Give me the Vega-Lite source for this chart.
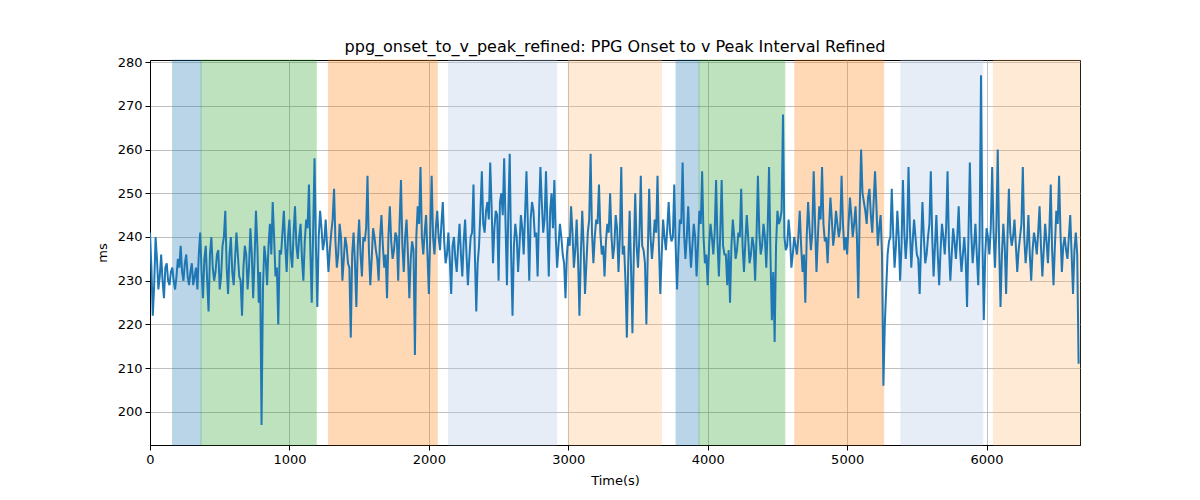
{
  "$schema": "https://vega.github.io/schema/vega-lite/v6.json",
  "width": 930,
  "height": 385,
  "autosize": "none",
  "padding": {"left": 150, "top": 60, "right": 120, "bottom": 55},
  "background": "white",
  "title": {
    "text": "ppg_onset_to_v_peak_refined: PPG Onset to v Peak Interval Refined",
    "font": "DejaVu Sans",
    "fontSize": 16,
    "fontWeight": "normal",
    "color": "black",
    "offset": 1
  },
  "datasets": {
    "bands": [
      {"start": 162, "end": 366, "kind": "blue"},
      {"start": 366, "end": 1192, "kind": "green"},
      {"start": 1280, "end": 2060, "kind": "orange"},
      {"start": 2141, "end": 2917, "kind": "lightblue"},
      {"start": 3000, "end": 3668, "kind": "peach"},
      {"start": 3773, "end": 3938, "kind": "blue"},
      {"start": 3938, "end": 4553, "kind": "green"},
      {"start": 4625, "end": 5262, "kind": "orange"},
      {"start": 5386, "end": 5973, "kind": "lightblue"},
      {"start": 6049, "end": 6670, "kind": "peach"}
    ],
    "series": [
      {"t": 0, "v": 241}, {"t": 20, "v": 222}, {"t": 40, "v": 240}, {"t": 60, "v": 228}, {"t": 80, "v": 236},
      {"t": 100, "v": 226}, {"t": 120, "v": 234}, {"t": 140, "v": 229}, {"t": 160, "v": 233}, {"t": 180, "v": 228},
      {"t": 200, "v": 235}, {"t": 220, "v": 238}, {"t": 240, "v": 230}, {"t": 260, "v": 236}, {"t": 280, "v": 229},
      {"t": 300, "v": 234}, {"t": 320, "v": 231}, {"t": 340, "v": 228}, {"t": 360, "v": 241}, {"t": 380, "v": 226},
      {"t": 400, "v": 238}, {"t": 420, "v": 223}, {"t": 440, "v": 240}, {"t": 460, "v": 230}, {"t": 480, "v": 236},
      {"t": 500, "v": 228}, {"t": 520, "v": 238}, {"t": 540, "v": 246}, {"t": 560, "v": 227}, {"t": 580, "v": 240},
      {"t": 600, "v": 229}, {"t": 620, "v": 241}, {"t": 640, "v": 231}, {"t": 660, "v": 222}, {"t": 680, "v": 238},
      {"t": 700, "v": 228}, {"t": 720, "v": 242}, {"t": 740, "v": 226}, {"t": 760, "v": 246}, {"t": 780, "v": 225},
      {"t": 800, "v": 197}, {"t": 820, "v": 238}, {"t": 840, "v": 229}, {"t": 860, "v": 243}, {"t": 880, "v": 248},
      {"t": 900, "v": 231}, {"t": 920, "v": 220}, {"t": 940, "v": 236}, {"t": 960, "v": 246}, {"t": 980, "v": 232},
      {"t": 1000, "v": 244}, {"t": 1020, "v": 233}, {"t": 1040, "v": 247}, {"t": 1060, "v": 235}, {"t": 1080, "v": 243},
      {"t": 1100, "v": 230}, {"t": 1120, "v": 244}, {"t": 1140, "v": 252}, {"t": 1160, "v": 225}, {"t": 1180, "v": 258},
      {"t": 1200, "v": 224}, {"t": 1220, "v": 246}, {"t": 1240, "v": 237}, {"t": 1260, "v": 244}, {"t": 1280, "v": 232},
      {"t": 1300, "v": 241}, {"t": 1320, "v": 251}, {"t": 1340, "v": 233}, {"t": 1360, "v": 243}, {"t": 1380, "v": 230},
      {"t": 1400, "v": 240}, {"t": 1420, "v": 234}, {"t": 1440, "v": 217}, {"t": 1460, "v": 241}, {"t": 1480, "v": 224},
      {"t": 1500, "v": 244}, {"t": 1520, "v": 231}, {"t": 1540, "v": 239}, {"t": 1560, "v": 254}, {"t": 1580, "v": 229},
      {"t": 1600, "v": 242}, {"t": 1620, "v": 237}, {"t": 1640, "v": 230}, {"t": 1660, "v": 245}, {"t": 1680, "v": 233},
      {"t": 1700, "v": 226}, {"t": 1720, "v": 247}, {"t": 1740, "v": 235}, {"t": 1760, "v": 241}, {"t": 1780, "v": 230},
      {"t": 1800, "v": 253}, {"t": 1820, "v": 232}, {"t": 1840, "v": 244}, {"t": 1860, "v": 226}, {"t": 1880, "v": 239},
      {"t": 1900, "v": 213}, {"t": 1920, "v": 247}, {"t": 1940, "v": 256}, {"t": 1960, "v": 236}, {"t": 1980, "v": 245},
      {"t": 2000, "v": 227}, {"t": 2020, "v": 254}, {"t": 2040, "v": 236}, {"t": 2060, "v": 246}, {"t": 2080, "v": 237},
      {"t": 2100, "v": 248}, {"t": 2120, "v": 234}, {"t": 2140, "v": 241}, {"t": 2160, "v": 227}, {"t": 2180, "v": 240},
      {"t": 2200, "v": 232}, {"t": 2220, "v": 243}, {"t": 2240, "v": 231}, {"t": 2260, "v": 244}, {"t": 2280, "v": 229},
      {"t": 2300, "v": 240}, {"t": 2320, "v": 252}, {"t": 2340, "v": 223}, {"t": 2360, "v": 238}, {"t": 2380, "v": 255},
      {"t": 2400, "v": 241}, {"t": 2420, "v": 248}, {"t": 2440, "v": 257}, {"t": 2460, "v": 234}, {"t": 2480, "v": 246},
      {"t": 2500, "v": 230}, {"t": 2520, "v": 250}, {"t": 2540, "v": 258}, {"t": 2560, "v": 229}, {"t": 2580, "v": 259},
      {"t": 2600, "v": 222}, {"t": 2620, "v": 243}, {"t": 2640, "v": 232}, {"t": 2660, "v": 245}, {"t": 2680, "v": 236},
      {"t": 2700, "v": 255}, {"t": 2720, "v": 230}, {"t": 2740, "v": 248}, {"t": 2760, "v": 240}, {"t": 2780, "v": 231},
      {"t": 2800, "v": 256}, {"t": 2820, "v": 241}, {"t": 2840, "v": 255}, {"t": 2860, "v": 231}, {"t": 2880, "v": 250},
      {"t": 2900, "v": 253}, {"t": 2920, "v": 233}, {"t": 2940, "v": 243}, {"t": 2960, "v": 236}, {"t": 2980, "v": 226},
      {"t": 3000, "v": 240}, {"t": 3020, "v": 247}, {"t": 3040, "v": 233}, {"t": 3060, "v": 244}, {"t": 3080, "v": 222},
      {"t": 3100, "v": 246}, {"t": 3120, "v": 227}, {"t": 3140, "v": 241}, {"t": 3160, "v": 259}, {"t": 3180, "v": 234},
      {"t": 3200, "v": 244}, {"t": 3220, "v": 252}, {"t": 3240, "v": 236}, {"t": 3260, "v": 231}, {"t": 3280, "v": 243},
      {"t": 3300, "v": 250}, {"t": 3320, "v": 235}, {"t": 3340, "v": 245}, {"t": 3360, "v": 232}, {"t": 3380, "v": 256},
      {"t": 3400, "v": 238}, {"t": 3420, "v": 217}, {"t": 3440, "v": 246}, {"t": 3460, "v": 218}, {"t": 3480, "v": 250},
      {"t": 3500, "v": 233}, {"t": 3520, "v": 254}, {"t": 3540, "v": 237}, {"t": 3560, "v": 220}, {"t": 3580, "v": 251},
      {"t": 3600, "v": 235}, {"t": 3620, "v": 244}, {"t": 3640, "v": 254}, {"t": 3660, "v": 227}, {"t": 3680, "v": 244},
      {"t": 3700, "v": 237}, {"t": 3720, "v": 248}, {"t": 3740, "v": 239}, {"t": 3760, "v": 252}, {"t": 3780, "v": 228},
      {"t": 3800, "v": 244}, {"t": 3820, "v": 257}, {"t": 3840, "v": 235}, {"t": 3860, "v": 247}, {"t": 3880, "v": 233},
      {"t": 3900, "v": 243}, {"t": 3920, "v": 231}, {"t": 3940, "v": 246}, {"t": 3960, "v": 255}, {"t": 3980, "v": 234},
      {"t": 4000, "v": 229}, {"t": 4020, "v": 243}, {"t": 4040, "v": 236}, {"t": 4060, "v": 253}, {"t": 4080, "v": 231},
      {"t": 4100, "v": 253}, {"t": 4120, "v": 236}, {"t": 4140, "v": 229}, {"t": 4160, "v": 225}, {"t": 4180, "v": 244},
      {"t": 4200, "v": 235}, {"t": 4220, "v": 241}, {"t": 4240, "v": 251}, {"t": 4260, "v": 232}, {"t": 4280, "v": 245},
      {"t": 4300, "v": 234}, {"t": 4320, "v": 240}, {"t": 4340, "v": 230}, {"t": 4360, "v": 254}, {"t": 4380, "v": 236},
      {"t": 4400, "v": 243}, {"t": 4420, "v": 233}, {"t": 4440, "v": 256}, {"t": 4460, "v": 221}, {"t": 4480, "v": 216},
      {"t": 4500, "v": 246}, {"t": 4520, "v": 244}, {"t": 4540, "v": 268}, {"t": 4560, "v": 237}, {"t": 4580, "v": 244},
      {"t": 4600, "v": 233}, {"t": 4620, "v": 240}, {"t": 4640, "v": 236}, {"t": 4660, "v": 246}, {"t": 4680, "v": 232},
      {"t": 4700, "v": 225}, {"t": 4720, "v": 248}, {"t": 4740, "v": 237}, {"t": 4760, "v": 255}, {"t": 4780, "v": 232},
      {"t": 4800, "v": 247}, {"t": 4820, "v": 256}, {"t": 4840, "v": 239}, {"t": 4860, "v": 234}, {"t": 4880, "v": 249},
      {"t": 4900, "v": 238}, {"t": 4920, "v": 246}, {"t": 4940, "v": 240}, {"t": 4960, "v": 254}, {"t": 4980, "v": 237},
      {"t": 5000, "v": 236}, {"t": 5020, "v": 249}, {"t": 5040, "v": 240}, {"t": 5060, "v": 247}, {"t": 5080, "v": 226},
      {"t": 5100, "v": 260}, {"t": 5120, "v": 248}, {"t": 5140, "v": 243}, {"t": 5160, "v": 251}, {"t": 5180, "v": 241},
      {"t": 5200, "v": 255}, {"t": 5220, "v": 238}, {"t": 5240, "v": 245}, {"t": 5260, "v": 206}, {"t": 5280, "v": 228},
      {"t": 5300, "v": 239}, {"t": 5320, "v": 251}, {"t": 5340, "v": 233}, {"t": 5360, "v": 246}, {"t": 5380, "v": 230},
      {"t": 5400, "v": 253}, {"t": 5420, "v": 235}, {"t": 5440, "v": 256}, {"t": 5460, "v": 233}, {"t": 5480, "v": 244},
      {"t": 5500, "v": 236}, {"t": 5520, "v": 227}, {"t": 5540, "v": 248}, {"t": 5560, "v": 234}, {"t": 5580, "v": 240},
      {"t": 5600, "v": 255}, {"t": 5620, "v": 231}, {"t": 5640, "v": 245}, {"t": 5660, "v": 229}, {"t": 5680, "v": 243},
      {"t": 5700, "v": 236}, {"t": 5720, "v": 255}, {"t": 5740, "v": 230}, {"t": 5760, "v": 242}, {"t": 5780, "v": 235},
      {"t": 5800, "v": 247}, {"t": 5820, "v": 232}, {"t": 5840, "v": 240}, {"t": 5860, "v": 224}, {"t": 5880, "v": 257},
      {"t": 5900, "v": 234}, {"t": 5920, "v": 243}, {"t": 5940, "v": 229}, {"t": 5960, "v": 277}, {"t": 5980, "v": 221},
      {"t": 6000, "v": 242}, {"t": 6020, "v": 236}, {"t": 6040, "v": 256}, {"t": 6060, "v": 233}, {"t": 6080, "v": 260},
      {"t": 6100, "v": 224}, {"t": 6120, "v": 243}, {"t": 6140, "v": 227}, {"t": 6160, "v": 251}, {"t": 6180, "v": 238},
      {"t": 6200, "v": 244}, {"t": 6220, "v": 232}, {"t": 6240, "v": 240}, {"t": 6260, "v": 256}, {"t": 6280, "v": 234},
      {"t": 6300, "v": 245}, {"t": 6320, "v": 230}, {"t": 6340, "v": 241}, {"t": 6360, "v": 236}, {"t": 6380, "v": 247},
      {"t": 6400, "v": 231}, {"t": 6420, "v": 243}, {"t": 6440, "v": 234}, {"t": 6460, "v": 252}, {"t": 6480, "v": 229},
      {"t": 6500, "v": 246}, {"t": 6520, "v": 254}, {"t": 6540, "v": 232}, {"t": 6560, "v": 240}, {"t": 6580, "v": 235},
      {"t": 6600, "v": 245}, {"t": 6620, "v": 227}, {"t": 6640, "v": 241}, {"t": 6660, "v": 211},
      {"t": 10, "v": 233}, {"t": 30, "v": 229}, {"t": 50, "v": 235}, {"t": 70, "v": 231}, {"t": 90, "v": 230},
      {"t": 110, "v": 233}, {"t": 130, "v": 230}, {"t": 150, "v": 232}, {"t": 170, "v": 230}, {"t": 190, "v": 231},
      {"t": 210, "v": 233}, {"t": 230, "v": 232}, {"t": 250, "v": 234}, {"t": 270, "v": 231}, {"t": 290, "v": 232},
      {"t": 310, "v": 229}, {"t": 330, "v": 233}, {"t": 350, "v": 236}, {"t": 370, "v": 232}, {"t": 390, "v": 235},
      {"t": 410, "v": 230}, {"t": 430, "v": 236}, {"t": 450, "v": 233}, {"t": 470, "v": 232}, {"t": 490, "v": 237},
      {"t": 510, "v": 231}, {"t": 530, "v": 240}, {"t": 550, "v": 233}, {"t": 570, "v": 236}, {"t": 590, "v": 232},
      {"t": 610, "v": 235}, {"t": 630, "v": 236}, {"t": 650, "v": 230}, {"t": 670, "v": 233}, {"t": 690, "v": 236},
      {"t": 710, "v": 233}, {"t": 730, "v": 236}, {"t": 750, "v": 235}, {"t": 770, "v": 238}, {"t": 790, "v": 232},
      {"t": 810, "v": 228}, {"t": 830, "v": 235}, {"t": 850, "v": 238}, {"t": 870, "v": 236}, {"t": 890, "v": 240},
      {"t": 910, "v": 233}, {"t": 930, "v": 237}, {"t": 950, "v": 241}, {"t": 970, "v": 238}, {"t": 990, "v": 240},
      {"t": 1010, "v": 236}, {"t": 1030, "v": 241}, {"t": 1050, "v": 238}, {"t": 1070, "v": 240}, {"t": 1090, "v": 235},
      {"t": 1110, "v": 239}, {"t": 1130, "v": 242}, {"t": 1150, "v": 237}, {"t": 1170, "v": 241}, {"t": 1190, "v": 238},
      {"t": 1210, "v": 240}, {"t": 1230, "v": 242}, {"t": 1250, "v": 239}, {"t": 1270, "v": 238}, {"t": 1290, "v": 237},
      {"t": 1310, "v": 244}, {"t": 1330, "v": 239}, {"t": 1350, "v": 236}, {"t": 1370, "v": 240}, {"t": 1390, "v": 235},
      {"t": 1410, "v": 238}, {"t": 1430, "v": 233}, {"t": 1450, "v": 236}, {"t": 1470, "v": 234}, {"t": 1490, "v": 238},
      {"t": 1510, "v": 236}, {"t": 1530, "v": 240}, {"t": 1550, "v": 242}, {"t": 1570, "v": 237}, {"t": 1590, "v": 235},
      {"t": 1610, "v": 240}, {"t": 1630, "v": 235}, {"t": 1650, "v": 240}, {"t": 1670, "v": 238}, {"t": 1690, "v": 236},
      {"t": 1710, "v": 240}, {"t": 1730, "v": 239}, {"t": 1750, "v": 237}, {"t": 1770, "v": 240}, {"t": 1790, "v": 243},
      {"t": 1810, "v": 238}, {"t": 1830, "v": 240}, {"t": 1850, "v": 236}, {"t": 1870, "v": 235}, {"t": 1890, "v": 237},
      {"t": 1910, "v": 240}, {"t": 1930, "v": 243}, {"t": 1950, "v": 240}, {"t": 1970, "v": 241}, {"t": 1990, "v": 236},
      {"t": 2010, "v": 241}, {"t": 2030, "v": 240}, {"t": 2050, "v": 242}, {"t": 2070, "v": 240}, {"t": 2090, "v": 243},
      {"t": 2110, "v": 239}, {"t": 2130, "v": 236}, {"t": 2150, "v": 235}, {"t": 2170, "v": 238}, {"t": 2190, "v": 235},
      {"t": 2210, "v": 238}, {"t": 2230, "v": 236}, {"t": 2250, "v": 239}, {"t": 2270, "v": 236}, {"t": 2290, "v": 235},
      {"t": 2310, "v": 241}, {"t": 2330, "v": 236}, {"t": 2350, "v": 234}, {"t": 2370, "v": 246}, {"t": 2390, "v": 243},
      {"t": 2410, "v": 246}, {"t": 2430, "v": 244}, {"t": 2450, "v": 247}, {"t": 2470, "v": 242}, {"t": 2490, "v": 245},
      {"t": 2510, "v": 248}, {"t": 2530, "v": 245}, {"t": 2550, "v": 243}, {"t": 2570, "v": 246}, {"t": 2590, "v": 236},
      {"t": 2610, "v": 238}, {"t": 2630, "v": 240}, {"t": 2650, "v": 238}, {"t": 2670, "v": 242}, {"t": 2690, "v": 245},
      {"t": 2710, "v": 243}, {"t": 2730, "v": 244}, {"t": 2750, "v": 246}, {"t": 2770, "v": 241}, {"t": 2790, "v": 245},
      {"t": 2810, "v": 248}, {"t": 2830, "v": 244}, {"t": 2850, "v": 243}, {"t": 2870, "v": 246}, {"t": 2890, "v": 242},
      {"t": 2910, "v": 240}, {"t": 2930, "v": 238}, {"t": 2950, "v": 240}, {"t": 2970, "v": 234}, {"t": 2990, "v": 236},
      {"t": 3010, "v": 238}, {"t": 3030, "v": 241}, {"t": 3050, "v": 237}, {"t": 3070, "v": 235}, {"t": 3090, "v": 236},
      {"t": 3110, "v": 238}, {"t": 3130, "v": 234}, {"t": 3150, "v": 244}, {"t": 3170, "v": 241}, {"t": 3190, "v": 240},
      {"t": 3210, "v": 243}, {"t": 3230, "v": 241}, {"t": 3250, "v": 238}, {"t": 3270, "v": 239}, {"t": 3290, "v": 241},
      {"t": 3310, "v": 240}, {"t": 3330, "v": 238}, {"t": 3350, "v": 242}, {"t": 3370, "v": 240}, {"t": 3390, "v": 236},
      {"t": 3410, "v": 230}, {"t": 3430, "v": 234}, {"t": 3450, "v": 233}, {"t": 3470, "v": 236}, {"t": 3490, "v": 238},
      {"t": 3510, "v": 240}, {"t": 3530, "v": 238}, {"t": 3550, "v": 234}, {"t": 3570, "v": 236}, {"t": 3590, "v": 240},
      {"t": 3610, "v": 239}, {"t": 3630, "v": 241}, {"t": 3650, "v": 238}, {"t": 3670, "v": 236}, {"t": 3690, "v": 240},
      {"t": 3710, "v": 242}, {"t": 3730, "v": 241}, {"t": 3750, "v": 240}, {"t": 3770, "v": 238}, {"t": 3790, "v": 237},
      {"t": 3810, "v": 243}, {"t": 3830, "v": 241}, {"t": 3850, "v": 240}, {"t": 3870, "v": 239}, {"t": 3890, "v": 238},
      {"t": 3910, "v": 240}, {"t": 3930, "v": 238}, {"t": 3950, "v": 243}, {"t": 3970, "v": 240}, {"t": 3990, "v": 236},
      {"t": 4010, "v": 238}, {"t": 4030, "v": 240}, {"t": 4050, "v": 241}, {"t": 4070, "v": 239}, {"t": 4090, "v": 241},
      {"t": 4110, "v": 238}, {"t": 4130, "v": 236}, {"t": 4150, "v": 237}, {"t": 4170, "v": 238}, {"t": 4190, "v": 240},
      {"t": 4210, "v": 237}, {"t": 4230, "v": 240}, {"t": 4250, "v": 238}, {"t": 4270, "v": 239}, {"t": 4290, "v": 240},
      {"t": 4310, "v": 236}, {"t": 4330, "v": 238}, {"t": 4350, "v": 240}, {"t": 4370, "v": 241}, {"t": 4390, "v": 238},
      {"t": 4410, "v": 240}, {"t": 4430, "v": 242}, {"t": 4450, "v": 236}, {"t": 4470, "v": 232}, {"t": 4490, "v": 238},
      {"t": 4510, "v": 243}, {"t": 4530, "v": 246}, {"t": 4550, "v": 240}, {"t": 4570, "v": 238}, {"t": 4590, "v": 240},
      {"t": 4610, "v": 236}, {"t": 4630, "v": 238}, {"t": 4650, "v": 240}, {"t": 4670, "v": 238}, {"t": 4690, "v": 236},
      {"t": 4710, "v": 240}, {"t": 4730, "v": 242}, {"t": 4750, "v": 241}, {"t": 4770, "v": 243}, {"t": 4790, "v": 240},
      {"t": 4810, "v": 244}, {"t": 4830, "v": 243}, {"t": 4850, "v": 240}, {"t": 4870, "v": 242}, {"t": 4890, "v": 244},
      {"t": 4910, "v": 241}, {"t": 4930, "v": 243}, {"t": 4950, "v": 242}, {"t": 4970, "v": 243}, {"t": 4990, "v": 240},
      {"t": 5010, "v": 243}, {"t": 5030, "v": 245}, {"t": 5050, "v": 243}, {"t": 5070, "v": 240}, {"t": 5090, "v": 246},
      {"t": 5110, "v": 250}, {"t": 5130, "v": 246}, {"t": 5150, "v": 249}, {"t": 5170, "v": 245}, {"t": 5190, "v": 248},
      {"t": 5210, "v": 247}, {"t": 5230, "v": 242}, {"t": 5250, "v": 236}, {"t": 5270, "v": 220}, {"t": 5290, "v": 236},
      {"t": 5310, "v": 240}, {"t": 5330, "v": 241}, {"t": 5350, "v": 238}, {"t": 5370, "v": 240}, {"t": 5390, "v": 238},
      {"t": 5410, "v": 241}, {"t": 5430, "v": 240}, {"t": 5450, "v": 242}, {"t": 5470, "v": 239}, {"t": 5490, "v": 240},
      {"t": 5510, "v": 235}, {"t": 5530, "v": 238}, {"t": 5550, "v": 240}, {"t": 5570, "v": 236}, {"t": 5590, "v": 243},
      {"t": 5610, "v": 240}, {"t": 5630, "v": 238}, {"t": 5650, "v": 236}, {"t": 5670, "v": 237}, {"t": 5690, "v": 240},
      {"t": 5710, "v": 242}, {"t": 5730, "v": 238}, {"t": 5750, "v": 236}, {"t": 5770, "v": 239}, {"t": 5790, "v": 240},
      {"t": 5810, "v": 237}, {"t": 5830, "v": 236}, {"t": 5850, "v": 235}, {"t": 5870, "v": 240}, {"t": 5890, "v": 241},
      {"t": 5910, "v": 238}, {"t": 5930, "v": 236}, {"t": 5950, "v": 240}, {"t": 5970, "v": 240}, {"t": 5990, "v": 236},
      {"t": 6010, "v": 240}, {"t": 6030, "v": 242}, {"t": 6050, "v": 241}, {"t": 6070, "v": 242}, {"t": 6090, "v": 238},
      {"t": 6110, "v": 236}, {"t": 6130, "v": 238}, {"t": 6150, "v": 240}, {"t": 6170, "v": 241}, {"t": 6190, "v": 240},
      {"t": 6210, "v": 238}, {"t": 6230, "v": 237}, {"t": 6250, "v": 243}, {"t": 6270, "v": 240}, {"t": 6290, "v": 238},
      {"t": 6310, "v": 236}, {"t": 6330, "v": 237}, {"t": 6350, "v": 239}, {"t": 6370, "v": 241}, {"t": 6390, "v": 238},
      {"t": 6410, "v": 237}, {"t": 6430, "v": 239}, {"t": 6450, "v": 241}, {"t": 6470, "v": 237}, {"t": 6490, "v": 238},
      {"t": 6510, "v": 243}, {"t": 6530, "v": 241}, {"t": 6550, "v": 238}, {"t": 6570, "v": 237}, {"t": 6590, "v": 240},
      {"t": 6610, "v": 236}, {"t": 6630, "v": 237}, {"t": 6650, "v": 236}
    ]
  },
  "layer": [
    {
      "data": {"name": "bands"},
      "mark": {"type": "rect", "opacity": 0.3, "strokeWidth": 1},
      "encoding": {
        "x": {
          "field": "start",
          "type": "quantitative",
          "scale": {"domain": [0, 6670], "nice": false, "zero": false},
          "axis": {"values": [0, 1000, 2000, 3000, 4000, 5000, 6000], "format": "d", "title": "Time(s)", "labelFlush": false}
        },
        "x2": {"field": "end"},
        "color": {
          "field": "kind",
          "type": "nominal",
          "scale": {
            "domain": ["blue", "green", "orange", "lightblue", "peach"],
            "range": ["#1f77b4", "#2ca02c", "#ff7f0e", "#aec7e8", "#ffbb78"]
          },
          "legend": null
        },
        "stroke": {
          "field": "kind",
          "type": "nominal",
          "scale": {
            "domain": ["blue", "green", "orange", "lightblue", "peach"],
            "range": ["#1f77b4", "#2ca02c", "#ff7f0e", "#aec7e8", "#ffbb78"]
          },
          "legend": null
        }
      }
    },
    {
      "data": {"name": "series"},
      "mark": {"type": "line", "color": "#1f77b4", "strokeWidth": 2, "clip": true},
      "encoding": {
        "x": {"field": "t", "type": "quantitative"},
        "y": {
          "field": "v",
          "type": "quantitative",
          "scale": {"domain": [192.45, 280.46], "nice": false, "zero": false},
          "axis": {"values": [200, 210, 220, 230, 240, 250, 260, 270, 280], "title": "ms"}
        }
      }
    }
  ],
  "config": {
    "view": {"stroke": "black", "strokeWidth": 1},
    "axis": {
      "labelFont": "DejaVu Sans",
      "labelFontSize": 13,
      "labelColor": "black",
      "titleFont": "DejaVu Sans",
      "titleFontSize": 13,
      "titleFontWeight": "normal",
      "titleColor": "black",
      "domainColor": "black",
      "tickColor": "black",
      "tickSize": 5,
      "labelPadding": 3,
      "grid": true,
      "gridColor": "#b0b0b0",
      "gridWidth": 0.8
    },
    "axisX": {"titlePadding": 8},
    "axisY": {"titlePadding": 8, "labelFlush": false}
  }
}
